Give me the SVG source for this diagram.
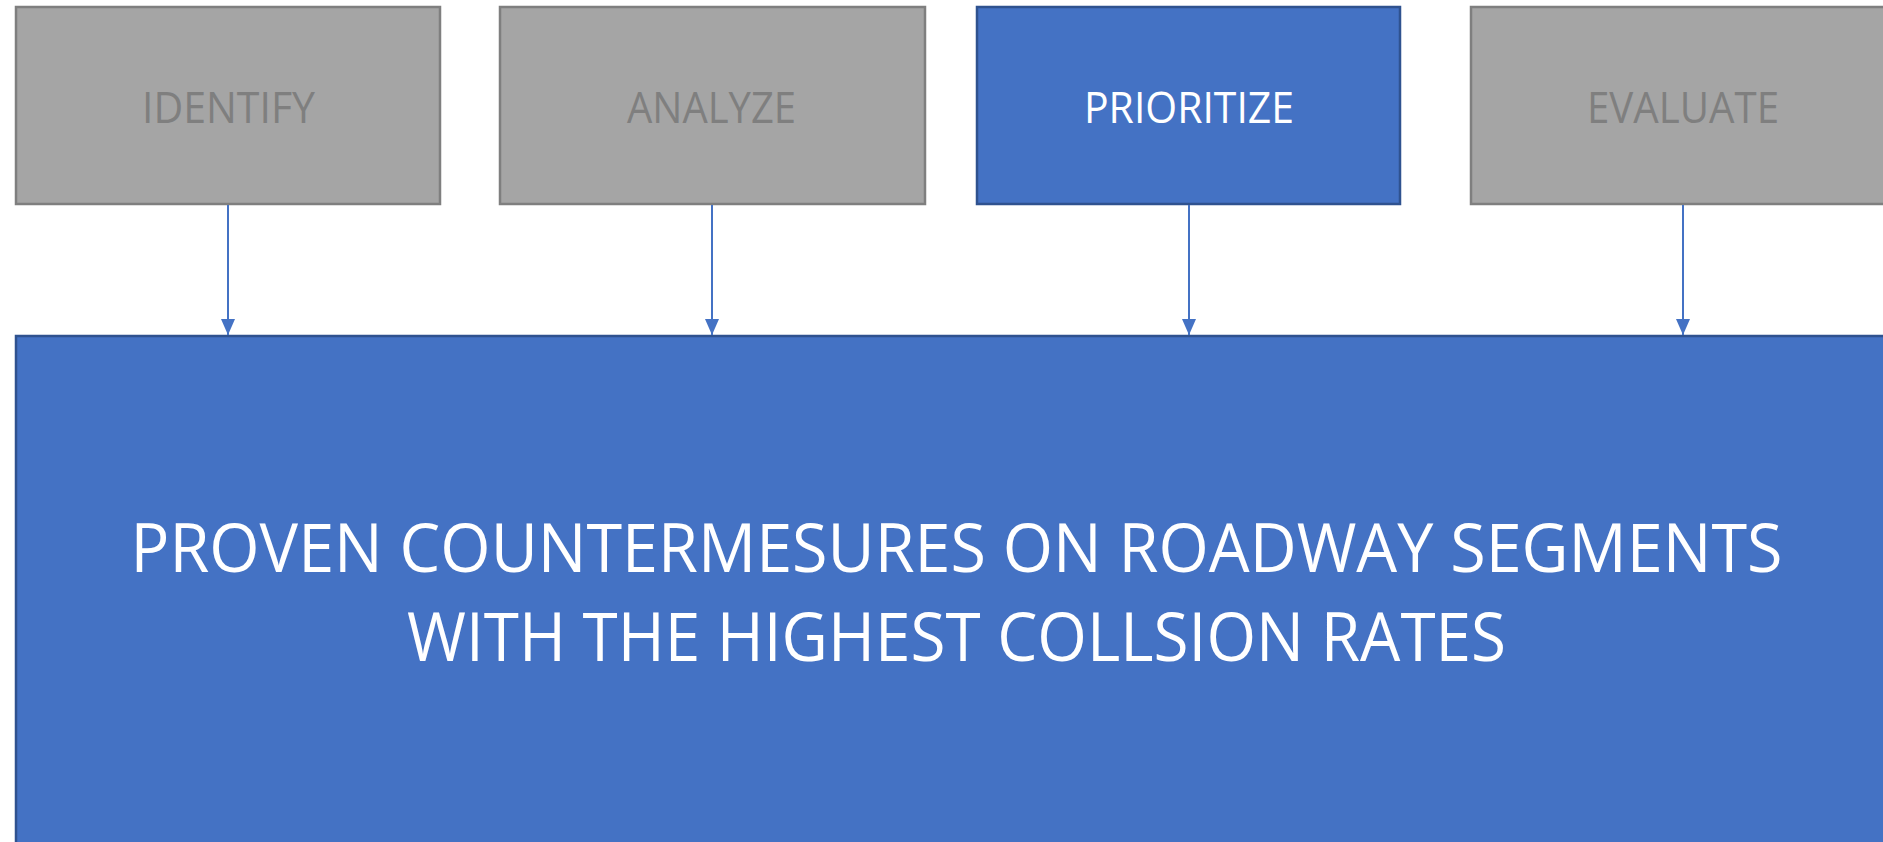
<svg xmlns="http://www.w3.org/2000/svg" width="1883" height="842" viewBox="0 0 1883 842">
<style>
.gray{fill:#A5A5A5;stroke:#7F7F7F;stroke-width:2.5}
.blue{fill:#4472C4;stroke:#2F528F;stroke-width:2.5}
.lbl{font-family:"Open Sans","Noto Sans",sans-serif;font-size:43.4px;font-weight:500;text-anchor:middle}
.gt{fill:#7F7F7F}
.wt{fill:#FFFFFF}
.big{font-family:"Open Sans","Noto Sans",sans-serif;font-size:66.8px;font-weight:500;fill:#FFFFFF;text-anchor:middle}
.conn{stroke:#4472C4;stroke-width:2;fill:none}
</style>
<defs>
<marker id="arr" markerUnits="userSpaceOnUse" markerWidth="16" markerHeight="14" refX="16" refY="7" orient="auto">
<path d="M0,0 L16,7 L0,14 Z" fill="#4472C4"/>
</marker>
</defs>
<g id="result">
<rect class="blue" x="16" y="336" width="1879" height="520"/>
<text class="big" x="956.5" y="571.5" textLength="1652" lengthAdjust="spacingAndGlyphs">PROVEN COUNTERMESURES ON ROADWAY SEGMENTS</text>
<text class="big" x="956.5" y="660.5" textLength="1099" lengthAdjust="spacingAndGlyphs">WITH THE HIGHEST COLLSION RATES</text>
</g>
<g id="identify">
<rect class="gray" x="16" y="7" width="424" height="197"/>
<text class="lbl gt" x="228.5" y="122.7" textLength="173" lengthAdjust="spacingAndGlyphs">IDENTIFY</text>
</g>
<g id="analyze">
<rect class="gray" x="500" y="7" width="425" height="197"/>
<text class="lbl gt" x="711.5" y="122.7" textLength="169" lengthAdjust="spacingAndGlyphs">ANALYZE</text>
</g>
<g id="prioritize">
<rect class="blue" x="977" y="7" width="423" height="197"/>
<text class="lbl wt" x="1189" y="122.7" textLength="210" lengthAdjust="spacingAndGlyphs">PRIORITIZE</text>
</g>
<g id="evaluate">
<rect class="gray" x="1471" y="7" width="424" height="197"/>
<text class="lbl gt" x="1683" y="122.7" textLength="192" lengthAdjust="spacingAndGlyphs">EVALUATE</text>
</g>
<g id="connectors">
<line class="conn" x1="228" y1="205" x2="228" y2="335" marker-end="url(#arr)"/>
<line class="conn" x1="712" y1="205" x2="712" y2="335" marker-end="url(#arr)"/>
<line class="conn" x1="1189" y1="205" x2="1189" y2="335" marker-end="url(#arr)"/>
<line class="conn" x1="1683" y1="205" x2="1683" y2="335" marker-end="url(#arr)"/>
</g>
</svg>
